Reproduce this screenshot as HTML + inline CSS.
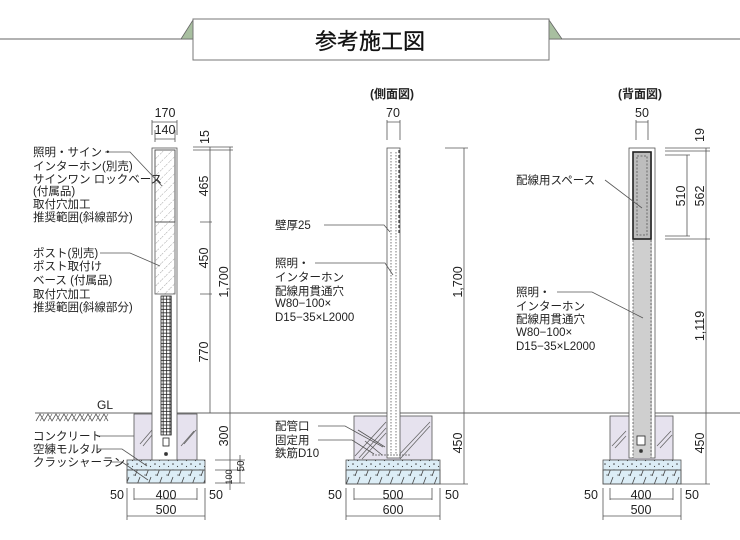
<!DOCTYPE html>
<html><head><meta charset="utf-8"><style>
html,body{margin:0;padding:0;background:#fff}
svg{display:block}
text{font-family:"Liberation Sans","Noto Sans CJK JP",sans-serif;fill:#222}
</style></head><body>
<svg width="740" height="540" viewBox="0 0 740 540" xmlns="http://www.w3.org/2000/svg">
<defs>
<pattern id="hat" width="6" height="6" patternUnits="userSpaceOnUse" patternTransform="rotate(45)">
<line x1="0" y1="0" x2="0" y2="6" stroke="#777" stroke-width="0.7" stroke-dasharray="2,1.5"/></pattern>
<pattern id="dots" width="9" height="6" patternUnits="userSpaceOnUse">
<circle cx="2" cy="2" r="0.8" fill="#444"/><circle cx="6.5" cy="4.5" r="0.6" fill="#444"/></pattern>
<pattern id="crush" width="11" height="14" patternUnits="userSpaceOnUse">
<path d="M3,14 L8,1" stroke="#444" stroke-width="0.8" fill="none"/><path d="M1,13 L4,13" stroke="#444" stroke-width="0.6"/></pattern>
<pattern id="grid" width="3.4" height="3.4" patternUnits="userSpaceOnUse">
<rect x="0" y="0" width="3.4" height="3.4" fill="#fff" stroke="#222" stroke-width="0.8"/></pattern>
</defs>

<!-- title -->
<line x1="0" y1="39" x2="740" y2="39" stroke="#666" stroke-width="1"/>
<path d="M181,39 L193,20 L193,39 Z" fill="#a8bfa0" stroke="#666" stroke-width="0.8"/>
<path d="M549,20 L562,39 L549,39 Z" fill="#a8bfa0" stroke="#666" stroke-width="0.8"/>
<rect x="193" y="19" width="356" height="41" fill="#fff" stroke="#777" stroke-width="1"/>
<text x="370" y="49" font-size="22" text-anchor="middle" style="fill:#111;stroke:#111;stroke-width:0.3">参考施工図</text>

<!-- GL line & ground hatch -->
<line x1="35" y1="413" x2="740" y2="413" stroke="#666" stroke-width="0.9"/>
<text x="97" y="409" font-size="12">GL</text>
<path d="M36,421 l4,-7 l4,7 l4,-7 l4,7 l4,-7 l4,7 l4,-7 l4,7 l4,-7 l4,7 l4,-7 l4,7 l4,-7 l4,7 l4,-7 l4,7 l4,-7 l4,7" fill="none" stroke="#555" stroke-width="0.8"/>
<path d="M40,421 l4,-7 M48,421 l4,-7 M56,421 l4,-7 M64,421 l4,-7 M72,421 l4,-7 M80,421 l4,-7 M88,421 l4,-7 M96,421 l4,-7 M104,421 l4,-7" stroke="#555" stroke-width="0.6"/>

<g stroke="#555" stroke-width="0.8">
<!-- ===== FRONT ===== -->
<rect x="134" y="414" width="63" height="46" fill="#e6e2ee"/>
<path d="M140,444 l12,-14 M143,446 l9,-11 M184,444 l12,-14 M181,446 l13,-15" stroke="#666"/>
<rect x="127" y="460" width="78" height="10" fill="#dcedf6"/>
<rect x="127" y="460" width="78" height="10" fill="url(#dots)" stroke="none"/>
<rect x="127" y="470" width="78" height="13" fill="#dcedf6"/>
<rect x="127" y="470" width="78" height="13" fill="url(#crush)"/>
<rect x="152" y="148" width="25" height="312" fill="#fff"/>
<rect x="155" y="150" width="20" height="72" fill="#fff"/>
<rect x="155" y="150" width="20" height="72" fill="url(#hat)"/>
<rect x="155" y="222" width="20" height="72" fill="url(#hat)"/>
<rect x="161" y="296" width="10.2" height="139" fill="url(#grid)" stroke="#222"/>
<rect x="163" y="438" width="6" height="8" fill="#fff" stroke="#222"/>
<circle cx="166" cy="454" r="1.6" fill="#333"/>
<!-- leaders -->
<path d="M105,152 L130,152 L162,186" fill="none"/>
<path d="M100,253 L130,253 L160,266" fill="none"/>
<path d="M97,436 L134,436" fill="none"/>
<path d="M97,449 L122,449 L147,466" fill="none"/>
<path d="M110,462 L122,462 L148,480" fill="none"/>
<!-- dims top -->
<path d="M152,120 V135 M177,120 V135 M152,122 H177 M155,130 V142 M175,130 V142 M155,139 H175" fill="none"/>
<!-- dims right -->
<path d="M193,150 H233 M193,147 H233 M200,222 H212 M200,294 H212 M210,147 V413 M230,147 V490 M215,460 H245 M215,470 H245 M215,483 H245 M240,455 V483" fill="none"/>
<!-- bottom -->
<path d="M127,488 V520 M134,488 V500 M197,488 V500 M205,488 V520 M134,499 H197 M127,516 H205" fill="none"/>

<!-- ===== SIDE ===== -->
<rect x="354" y="416" width="78" height="44" fill="#e6e2ee"/>
<path d="M355,456 l31,-34 M359,458 l27,-30 M362,459 l24,-26 M396,458 l34,-36 M400,459 l30,-33" stroke="#666"/>
<path d="M358,430 L385,447 M365,441 L382,455" stroke="#555"/>
<rect x="346" y="460" width="94" height="10" fill="#dcedf6"/>
<rect x="346" y="460" width="94" height="10" fill="url(#dots)" stroke="none"/>
<rect x="346" y="470" width="94" height="14" fill="#dcedf6"/>
<rect x="346" y="470" width="94" height="14" fill="url(#crush)"/>
<rect x="387" y="148" width="13" height="310" fill="#fff"/>
<line x1="391" y1="152" x2="391" y2="455" stroke-dasharray="1.5,1.5"/>
<line x1="396" y1="152" x2="396" y2="455" stroke-dasharray="1.5,1.5"/>
<line x1="399" y1="150" x2="399" y2="235" stroke="#333" stroke-width="1.2" stroke-dasharray="3,2"/>
<path d="M372,455 H410" stroke-dasharray="2,1"/>
<path d="M324,225 L384,225 L390,232" fill="none"/>
<path d="M315,263 L385,263 L393,275" fill="none"/>
<path d="M318,426 L345,426 L383,447" fill="none"/>
<path d="M318,440 L352,440 L374,454" fill="none"/>
<path d="M387,120 V140 M400,120 V140 M387,122 H400" fill="none"/>
<path d="M445,148 H468 M464,148 V484 M440,484 H468" fill="none"/>
<path d="M346,488 V520 M354,488 V500 M432,488 V500 M440,488 V520 M354,499 H432 M346,516 H440" fill="none"/>

<!-- ===== BACK ===== -->
<rect x="610" y="416" width="63" height="44" fill="#e6e2ee"/>
<path d="M612,446 l14,-15 M615,448 l11,-12 M657,446 l14,-15 M660,448 l12,-13" stroke="#666"/>
<rect x="603" y="460" width="78" height="10" fill="#dcedf6"/>
<rect x="603" y="460" width="78" height="10" fill="url(#dots)" stroke="none"/>
<rect x="603" y="470" width="78" height="14" fill="#dcedf6"/>
<rect x="603" y="470" width="78" height="14" fill="url(#crush)"/>
<rect x="629" y="148" width="26" height="310" fill="#fff"/>
<rect x="633" y="152" width="19" height="306" fill="#cfcfcf" stroke="none"/>
<line x1="633" y1="240" x2="633" y2="458" stroke-dasharray="2,1.5"/>
<line x1="651" y1="240" x2="651" y2="458" stroke-dasharray="2,1.5"/>
<rect x="633" y="152" width="18" height="87" fill="#bdbdbd" stroke="#222" stroke-width="1.6"/>
<rect x="637" y="156" width="10" height="79" fill="none" stroke-dasharray="2,1.5"/>
<rect x="637" y="436" width="8" height="9" fill="#fff" stroke="#222"/>
<circle cx="641" cy="451" r="1.6" fill="#333"/>
<path d="M605,180 L642,208" fill="none"/>
<path d="M557,292 L592,292 L643,318" fill="none"/>
<path d="M636,120 V140 M648,120 V140 M636,122 H648" fill="none"/>
<path d="M665,148 H710 M665,151 H710 M665,155 H690 M665,236 H690 M665,239 H710 M687,155 V236 M706,148 V484 M681,484 H710" fill="none"/>
<path d="M603,488 V520 M610,488 V500 M673,488 V500 M681,488 V520 M610,499 H673 M603,516 H681" fill="none"/>
</g>

<!-- texts -->
<g font-size="11.5">
<text x="33" y="156">照明・サイン・</text>
<text x="33" y="170">インターホン(別売)</text>
<text x="33" y="183">サインワン ロックベース</text>
<text x="33" y="195">(付属品)</text>
<text x="33" y="208">取付穴加工</text>
<text x="33" y="221">推奨範囲(斜線部分)</text>
<text x="33" y="257">ポスト(別売)</text>
<text x="33" y="270">ポスト取付け</text>
<text x="33" y="284">ベース (付属品)</text>
<text x="33" y="298">取付穴加工</text>
<text x="33" y="311">推奨範囲(斜線部分)</text>
<text x="33" y="440">コンクリート</text>
<text x="33" y="453">空練モルタル</text>
<text x="33" y="466">クラッシャーラン</text>
<text x="275" y="229">壁厚25</text>
<text x="275" y="267">照明・</text>
<text x="275" y="281">インターホン</text>
<text x="275" y="295">配線用貫通穴</text>
<text x="275" y="307">W80−100×</text>
<text x="275" y="321">D15−35×L2000</text>
<text x="275" y="430">配管口</text>
<text x="275" y="444">固定用</text>
<text x="275" y="457">鉄筋D10</text>
<text x="516" y="184">配線用スペース</text>
<text x="516" y="296">照明・</text>
<text x="516" y="310">インターホン</text>
<text x="516" y="323">配線用貫通穴</text>
<text x="516" y="336">W80−100×</text>
<text x="516" y="350">D15−35×L2000</text>
</g>
<g font-size="12.5" text-anchor="middle">
<text x="392" y="98" font-weight="bold" font-size="12">(側面図)</text>
<text x="640" y="98" font-weight="bold" font-size="12">(背面図)</text>
<text x="165" y="117">170</text>
<text x="165" y="134">140</text>
<text x="393" y="117">70</text>
<text x="642" y="117">50</text>
<text x="117" y="499">50</text><text x="166" y="499">400</text><text x="216" y="499">50</text>
<text x="166" y="514">500</text>
<text x="335" y="499">50</text><text x="393" y="499">500</text><text x="452" y="499">50</text>
<text x="393" y="514">600</text>
<text x="591" y="499">50</text><text x="641" y="499">400</text><text x="692" y="499">50</text>
<text x="641" y="514">500</text>
</g>
<g font-size="12.5" text-anchor="middle">
<text transform="translate(209,137) rotate(-90)">15</text>
<text transform="translate(208,186) rotate(-90)">465</text>
<text transform="translate(208,258) rotate(-90)">450</text>
<text transform="translate(228,282) rotate(-90)">1,700</text>
<text transform="translate(208,352) rotate(-90)">770</text>
<text transform="translate(228,436) rotate(-90)">300</text>
<text transform="translate(244,466) rotate(-90)" font-size="10">50</text>
<text transform="translate(232,477) rotate(-90)" font-size="9">100</text>
<text transform="translate(462,282) rotate(-90)">1,700</text>
<text transform="translate(462,443) rotate(-90)">450</text>
<text transform="translate(704,135) rotate(-90)">19</text>
<text transform="translate(685,196) rotate(-90)">510</text>
<text transform="translate(704,196) rotate(-90)">562</text>
<text transform="translate(704,326) rotate(-90)">1,119</text>
<text transform="translate(704,443) rotate(-90)">450</text>
</g>
</svg>
</body></html>
